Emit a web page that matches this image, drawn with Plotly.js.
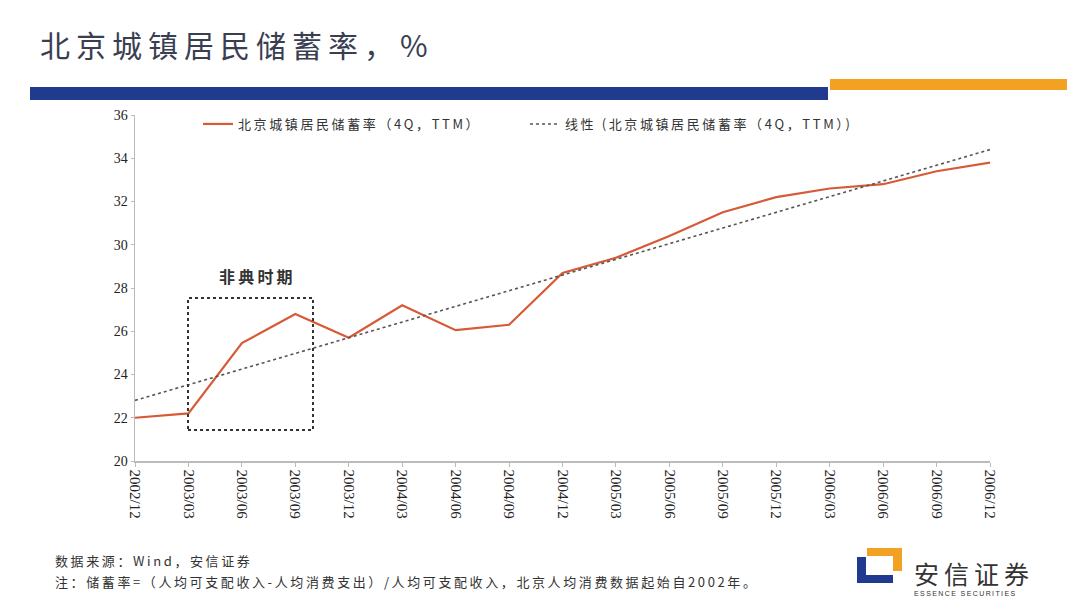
<!DOCTYPE html>
<html>
<head>
<meta charset="utf-8">
<script src="https://cdn.plot.ly/plotly-3.0.1.min.js"></script>
<style>
html,body{margin:0;padding:0;background:#fff;}
#chart{width:1067px;height:603px;}
#chart .gtitle, #chart .annotation-text, #chart .legendtext { letter-spacing: 0.2em; }
</style>
</head>
<body>
<div id="chart"></div>
<script>
// ---- data ----
const categories = ["2002/12","2003/03","2003/06","2003/09","2003/12","2004/03","2004/06","2004/09","2004/12","2005/03","2005/06","2005/09","2005/12","2006/03","2006/06","2006/09","2006/12"];
const savingsRate = [22.0, 22.2, 25.45, 26.8, 25.7, 27.2, 26.05, 26.3, 28.7, 29.4, 30.4, 31.5, 32.2, 32.6, 32.8, 33.4, 33.8];
const trendCategories = ["2002/12", "2006/12"];
const trendValues = [22.8, 34.4];
const seriesName = "北京城镇居民储蓄率（4Q，TTM）";
const trendName = "线性 (北京城镇居民储蓄率（4Q，TTM）)";

// ---- layout helpers (pixel -> paper) ----
const L = 135, R = 990, T = 115, B = 461;
const X = px => (px - L) / (R - L);
const Y = py => (B - py) / (B - T);

const cjk = '"Noto Sans CJK SC", "Noto Sans", sans-serif';
const serif = '"Liberation Serif", "DejaVu Serif", serif';

const traces = [
  {
    x: categories, y: savingsRate, type: 'scatter', mode: 'lines',
    name: seriesName,
    line: {color: '#d65a36', width: 2.2}
  },
  {
    x: trendCategories, y: trendValues, type: 'scatter', mode: 'lines',
    name: trendName,
    line: {color: '#555555', width: 1.6, dash: 'dot'}
  }
];

const note = (x, y, text, size, extra) => Object.assign({
  xref: 'paper', yref: 'paper', x: X(x), y: Y(y), text: text, showarrow: false,
  font: {family: cjk, size: size, color: '#333'}, xanchor: 'left', yanchor: 'middle', align: 'left'
}, extra || {});

const layout = {
  width: 1067, height: 603,
  paper_bgcolor: '#ffffff', plot_bgcolor: '#ffffff',
  margin: {l: L, r: 1067 - R, t: T, b: 603 - B, pad: 0},
  showlegend: true,
  title: {
    text: '北京城镇居民储蓄率，%',
    x: 40 / 1067, xanchor: 'left', xref: 'container',
    y: 1 - 46 / 603, yanchor: 'middle', yref: 'container',
    font: {family: cjk, size: 30, color: '#3a3e52'}
  },
  legend: {
    orientation: 'h', x: X(198), xanchor: 'left', y: Y(124), yanchor: 'middle',
    font: {family: cjk, size: 13, color: '#333'},
    bgcolor: 'rgba(0,0,0,0)', entrywidth: 282, entrywidthmode: 'pixels',
    traceorder: 'normal'
  },
  xaxis: {
    type: 'category', range: [0, categories.length - 1],
    showline: true, linecolor: '#bbbbbb', linewidth: 1.5,
    ticks: 'outside', ticklen: 4, tickcolor: '#bbbbbb',
    tickangle: 90,
    tickfont: {family: serif, size: 15, color: '#222'},
    showgrid: false, zeroline: false, fixedrange: true
  },
  yaxis: {
    range: [20, 36], tickvals: [20,22,24,26,28,30,32,34,36],
    showline: true, linecolor: '#bbbbbb', linewidth: 1.5,
    ticks: 'outside', ticklen: 3, tickcolor: '#bbbbbb',
    tickfont: {family: serif, size: 14, color: '#222'},
    showgrid: false, zeroline: false, fixedrange: true
  },
  shapes: [
    // header bars
    {type: 'rect', xref: 'paper', yref: 'paper', x0: X(30), x1: X(828), y0: Y(100), y1: Y(87),
     fillcolor: '#1f3a8f', line: {width: 0}},
    {type: 'rect', xref: 'paper', yref: 'paper', x0: X(830), x1: X(1067), y0: Y(90), y1: Y(79),
     fillcolor: '#f2a122', line: {width: 0}},
    // SARS period box
    {type: 'rect', xref: 'paper', yref: 'paper', x0: X(188), x1: X(313), y0: Y(430), y1: Y(298),
     fillcolor: 'rgba(0,0,0,0)', line: {color: '#333', width: 2, dash: 'dot'}},
    // logo
    {type: 'path', xref: 'paper', yref: 'paper',
     path: `M ${X(857)} ${Y(557)} L ${X(866)} ${Y(557)} L ${X(866)} ${Y(575)} L ${X(893)} ${Y(575)} L ${X(893)} ${Y(583)} L ${X(857)} ${Y(583)} Z`,
     fillcolor: '#1f3a8f', line: {width: 0}},
    {type: 'path', xref: 'paper', yref: 'paper',
     path: `M ${X(867)} ${Y(548)} L ${X(902)} ${Y(548)} L ${X(902)} ${Y(571)} L ${X(893)} ${Y(571)} L ${X(893)} ${Y(556)} L ${X(867)} ${Y(556)} Z`,
     fillcolor: '#f2a122', line: {width: 0}}
  ],
  annotations: [
    note(217, 276, '<b>非典时期</b>', 16),
    note(53, 560, '数据来源：Wind，安信证券', 13),
    note(53, 581, '注：储蓄率=（人均可支配收入-人均消费支出）/人均可支配收入，北京人均消费数据起始自2002年。', 13),
    note(912, 573, '安信证券', 25),
    note(912, 593, 'ESSENCE SECURITIES', 7, {font: {family: '"Liberation Sans", sans-serif', size: 7, color: '#333'}})
  ]
};

Plotly.newPlot('chart', traces, layout, {displayModeBar: false, staticPlot: true});
</script>
</body>
</html>
